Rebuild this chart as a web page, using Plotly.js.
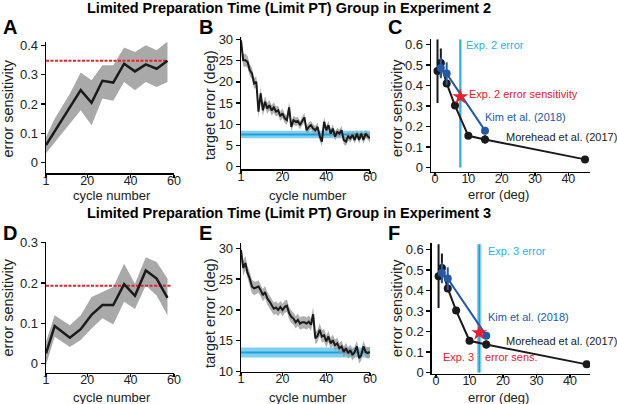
<!DOCTYPE html>
<html><head><meta charset="utf-8">
<script src="https://cdn.plot.ly/plotly-3.0.1.min.js"></script>
<style>html,body{margin:0;padding:0;background:#fff}#plot{width:617px;height:404px}</style>
</head><body><div id="plot"></div>
<script>
// ---------- data ----------
const titleTop = "Limited Preparation Time (Limit PT) Group in Experiment 2";
const titleBottom = "Limited Preparation Time (Limit PT) Group in Experiment 3";
const panelLetters = ["A","B","C","D","E","F"];
const xTitles = ["cycle number","cycle number","error (deg)","cycle number","cycle number","error (deg)"];
const yTitles = ["error sensitivity","target error (deg)","error sensitivity","error sensitivity","target error (deg)","error sensitivity"];

// A / D: error sensitivity by cycle bin
const binCycles = [1,5,12,17,22,27,32,37,42,47,52,57];
const esExp2 = [0.060,0.107,0.187,0.247,0.204,0.279,0.273,0.337,0.311,0.335,0.320,0.347];
const esExp2Hi = [0.088,0.150,0.235,0.307,0.281,0.332,0.332,0.392,0.377,0.400,0.383,0.413];
const esExp2Lo = [0.032,0.071,0.134,0.179,0.128,0.219,0.211,0.275,0.247,0.275,0.258,0.275];
const esExp3 = [0.025,0.093,0.064,0.085,0.121,0.145,0.145,0.197,0.168,0.231,0.211,0.163];
const esExp3Hi = [0.054,0.120,0.095,0.120,0.165,0.178,0.190,0.248,0.198,0.264,0.252,0.211];
const esExp3Lo = [-0.004,0.066,0.041,0.058,0.087,0.112,0.097,0.153,0.135,0.194,0.169,0.120];
const asymSens2 = 0.347;
const asymSens3 = 0.193;

// B / E: target error per cycle (1..60)
const cycles = [1,2,3,4,5,6,7,8,9,10,11,12,13,14,15,16,17,18,19,20,21,22,23,24,25,26,27,28,29,30,
  31,32,33,34,35,36,37,38,39,40,41,42,43,44,45,46,47,48,49,50,51,52,53,54,55,56,57,58,59,60];
const errExp2 = [29.8,25.1,25.1,24.7,22.8,22.0,19.6,20.0,13.0,17.3,13.3,15.3,13.7,14.5,13.3,14.0,13.0,13.3,11.9,12.6,
  11.4,11.0,14.0,9.4,11.0,10.6,10.8,9.8,10.8,11.6,8.6,9.4,9.8,9.0,8.6,9.4,7.2,5.9,10.6,8.6,
  9.8,7.8,9.0,7.1,8.2,7.8,8.6,6.3,5.9,7.2,6.7,7.5,6.3,7.8,6.3,7.8,6.3,7.8,7.2,6.7];
const seExp2 = [1.2,1.5,1.5,1.4,1.4,1.3,1.3,1.3,1.5,1.4,1.4,1.3,1.3,1.2,1.2,1.2,1.2,1.1,1.1,1.1,
  1.1,1.1,1.3,1.1,1.1,1.0,1.0,1.0,1.0,1.1,1.0,1.0,1.0,1.0,1.0,1.0,1.0,1.1,1.2,1.0,
  1.0,1.0,1.0,1.0,1.0,1.0,1.0,1.0,1.0,1.0,0.9,0.9,0.9,0.9,0.9,0.9,0.9,0.9,0.9,0.9];
const errExp3 = [29.7,26.8,27.6,26.0,25.1,23.8,23.5,23.6,23.8,23.2,22.4,22.9,21.9,21.4,20.8,20.2,20.4,20.0,20.5,20.0,
  20.5,20.7,19.5,18.9,18.6,18.0,18.4,17.8,18.0,18.0,17.8,18.1,17.6,19.3,15.4,15.8,16.8,15.7,15.9,14.9,
  15.7,14.6,15.1,14.3,14.6,13.8,14.1,13.2,13.8,13.0,13.5,12.7,13.2,14.1,12.2,12.7,14.1,13.2,13.0,13.2];
const seExp3 = [1.0,1.2,1.2,1.1,1.1,1.1,1.1,1.0,1.0,1.0,1.0,1.0,1.0,1.0,1.0,1.0,1.0,1.0,1.0,1.0,
  1.0,1.0,1.0,1.0,1.0,1.0,1.0,1.0,1.0,1.0,1.0,1.0,1.0,1.2,1.0,1.0,1.0,1.0,1.0,1.0,
  0.9,0.9,0.9,0.9,0.9,0.9,0.9,0.9,0.9,0.9,0.9,0.9,0.9,0.9,0.9,0.9,0.9,0.9,0.9,0.9];
const asymErr2 = 7.6, asymErr2Se = 0.9;
const asymErr3 = 13.1, asymErr3Se = 0.8;

// C / F: error sensitivity vs error size from prior studies
const moreheadErr = [0.75,1.75,3.5,6,10,15,45];
const moreheadSens = [0.47,0.51,0.41,0.302,0.155,0.137,0.04];
const moreheadSe = [0.155,0.07,0.015,0.015,0.015,0.02,0.006];
const kimErr = [1.75,3.5,15];
const kimSens = [0.485,0.458,0.18];
const kimSe = [0.05,0.055,0.015];
const exp2Err = 7.6, exp2Sens = 0.345;
const exp3Err = 12.9, exp3ErrHalf = 0.65, exp3Sens = 0.194;

// ---------- styling ----------
const W = 617, H = 404;
const FONT = '"Liberation Sans", Arial, Helvetica, sans-serif';
const BLACK = '#1a1a1a', GREY = '#a9a9a9', RED = '#e8202a', LBLUE = '#7fd0f0', CBLUE = '#1ea0dc', VBLUE = '#2ab4e8', KBLUE = '#2459a8';
const fx = p => p / W, fy = p => 1 - p / H;

function axis(d0, d1, range, tickvals, ticktext, anchor, isX) {
  const a = {domain:[d0,d1], range:range, anchor:anchor, showline:true, linecolor:'#000', linewidth:1.3,
    ticks:'outside', ticklen:isX ? 3 : 4, tickwidth:1.3, tickcolor:'#000', showgrid:false, zeroline:false,
    tickvals:tickvals, tickfont:{size:isX ? 12.5 : 13,color:'#222',family:FONT}, fixedrange:true};
  if (isX) a.ticklabelstandoff = -8;
  if (ticktext) a.ticktext = ticktext;
  return a;
}

function band(x, lo, hi, xa, ya, color) {
  return {x: x.concat(x.slice().reverse()), y: hi.concat(lo.slice().reverse()), xaxis:xa, yaxis:ya,
    type:'scatter', mode:'lines', fill:'toself', fillcolor:color, line:{width:0}, hoverinfo:'skip', showlegend:false};
}
const addArr = (a, b, s) => a.map((v,i) => v + s*b[i]);

const traces = [];
// Panel A
traces.push(band(binCycles, esExp2Lo, esExp2Hi, 'x', 'y', GREY));
traces.push({x:[1,57], y:[asymSens2, asymSens2], xaxis:'x', yaxis:'y', mode:'lines', line:{color:RED, width:2, dash:'3px,1.5px'}, showlegend:false});
traces.push({x:binCycles, y:esExp2, xaxis:'x', yaxis:'y', mode:'lines', line:{color:BLACK, width:2.5}, showlegend:false});
// Panel B
traces.push(band([1,60], [asymErr2-asymErr2Se, asymErr2-asymErr2Se], [asymErr2+asymErr2Se, asymErr2+asymErr2Se], 'x2', 'y2', LBLUE));
traces.push({x:[1,60], y:[asymErr2, asymErr2], xaxis:'x2', yaxis:'y2', mode:'lines', line:{color:CBLUE, width:2}, showlegend:false});
traces.push(band(cycles, addArr(errExp2, seExp2, -1), addArr(errExp2, seExp2, 1), 'x2', 'y2', 'rgba(150,150,150,0.75)'));
traces.push({x:cycles, y:errExp2, xaxis:'x2', yaxis:'y2', mode:'lines', line:{color:BLACK, width:2}, showlegend:false});
// Panel C
traces.push({x:[exp2Err, exp2Err], y:[0, 0.625], xaxis:'x3', yaxis:'y3', mode:'lines', line:{color:VBLUE, width:2.3}, showlegend:false});
traces.push({x:moreheadErr, y:moreheadSens, xaxis:'x3', yaxis:'y3', mode:'lines+markers', line:{color:BLACK, width:2},
  marker:{color:BLACK, size:8}, error_y:{type:'data', array:moreheadSe, color:BLACK, thickness:2, width:0}, showlegend:false});
traces.push({x:kimErr, y:kimSens, xaxis:'x3', yaxis:'y3', mode:'lines+markers', line:{color:KBLUE, width:2},
  marker:{color:KBLUE, size:8}, error_y:{type:'data', array:kimSe, color:KBLUE, thickness:2, width:0}, showlegend:false});
traces.push({x:[exp2Err], y:[exp2Sens], xaxis:'x3', yaxis:'y3', mode:'markers', marker:{symbol:'star', color:RED, size:12, line:{width:0}}, showlegend:false});
// Panel D
traces.push(band(binCycles, esExp3Lo, esExp3Hi, 'x4', 'y4', GREY));
traces.push({x:[1,59], y:[asymSens3, asymSens3], xaxis:'x4', yaxis:'y4', mode:'lines', line:{color:RED, width:2, dash:'3px,1.5px'}, showlegend:false});
traces.push({x:binCycles, y:esExp3, xaxis:'x4', yaxis:'y4', mode:'lines', line:{color:BLACK, width:2.5}, showlegend:false});
// Panel E
traces.push(band([1,60], [asymErr3-asymErr3Se, asymErr3-asymErr3Se], [asymErr3+asymErr3Se, asymErr3+asymErr3Se], 'x5', 'y5', LBLUE));
traces.push({x:[1,60], y:[asymErr3, asymErr3], xaxis:'x5', yaxis:'y5', mode:'lines', line:{color:CBLUE, width:2}, showlegend:false});
traces.push(band(cycles, addArr(errExp3, seExp3, -1), addArr(errExp3, seExp3, 1), 'x5', 'y5', 'rgba(150,150,150,0.75)'));
traces.push({x:cycles, y:errExp3, xaxis:'x5', yaxis:'y5', mode:'lines', line:{color:BLACK, width:2}, showlegend:false});
// Panel F
traces.push(band([exp3Err-exp3ErrHalf, exp3Err+exp3ErrHalf], [0,0], [0.625,0.625], 'x6', 'y6', LBLUE));
traces.push({x:[exp3Err, exp3Err], y:[0, 0.625], xaxis:'x6', yaxis:'y6', mode:'lines', line:{color:CBLUE, width:1.5}, showlegend:false});
traces.push({x:moreheadErr, y:moreheadSens, xaxis:'x6', yaxis:'y6', mode:'lines+markers', line:{color:BLACK, width:2},
  marker:{color:BLACK, size:8}, error_y:{type:'data', array:moreheadSe, color:BLACK, thickness:2, width:0}, showlegend:false});
traces.push({x:kimErr, y:kimSens, xaxis:'x6', yaxis:'y6', mode:'lines+markers', line:{color:KBLUE, width:2},
  marker:{color:KBLUE, size:8}, error_y:{type:'data', array:kimSe, color:KBLUE, thickness:2, width:0}, showlegend:false});
traces.push({x:[exp3Err], y:[exp3Sens], xaxis:'x6', yaxis:'y6', mode:'markers', marker:{symbol:'star', color:RED, size:12, line:{width:0}}, showlegend:false});

const cycTicks = [1,20,40,60];
const layout = {
  width:W, height:H, margin:{l:0,r:0,t:0,b:0}, paper_bgcolor:'#fff', plot_bgcolor:'rgba(0,0,0,0)',
  font:{family:FONT, color:'#222'}, showlegend:false,
  xaxis:  axis(fx(46), fx(174), [1,60], cycTicks, null, 'y', true),
  yaxis:  axis(fy(173.3), fy(42.3), [-0.036,0.41], [0,0.1,0.2,0.3,0.4], ['0','0.1','0.2','0.3','0.4'], 'x', false),
  xaxis2: axis(fx(241), fx(370), [1,60], cycTicks, null, 'y2', true),
  yaxis2: axis(fy(169.3), fy(37.3), [-0.6,30.5], [0,5,10,15,20,25,30], null, 'x2', false),
  xaxis3: axis(fx(431), fx(590), [-1.2,46.5], [0,10,20,30,40], null, 'y3', true),
  yaxis3: axis(fy(171.7), fy(39.3), [-0.02,0.625], [0,0.1,0.2,0.3,0.4,0.5,0.6], ['0','0.1','0.2','0.3','0.4','0.5','0.6'], 'x3', false),
  xaxis4: axis(fx(46), fx(174), [1,60], cycTicks, null, 'y4', true),
  yaxis4: axis(fy(373), fy(242), [-0.024,0.302], [0,0.1,0.2,0.3], ['0','0.1','0.2','0.3'], 'x4', false),
  xaxis5: axis(fx(241), fx(370), [1,60], cycTicks, null, 'y5', true),
  yaxis5: axis(fy(371.7), fy(243.3), [10,30.8], [10,15,20,25,30], null, 'x5', false),
  xaxis6: axis(fx(431.7), fx(590), [-1.3,46], [0,10,20,30,40], null, 'y6', true),
  yaxis6: axis(fy(374), fy(243.3), [-0.007,0.63], [0,0.1,0.2,0.3,0.4,0.5,0.6], ['0','0.1','0.2','0.3','0.4','0.5','0.6'], 'x6', false),
  annotations: []
};
const A = layout.annotations;
A.push({text:'<b>'+titleTop+'</b>', xref:'paper', yref:'paper', x:fx(289), y:fy(8), xanchor:'center', yanchor:'middle', showarrow:false, font:{size:14.5, color:'#000'}});
A.push({text:'<b>'+titleBottom+'</b>', xref:'paper', yref:'paper', x:fx(289), y:fy(213), xanchor:'center', yanchor:'middle', showarrow:false, font:{size:14.5, color:'#000'}});
const letterPos = [[1,27],[197,27],[386,27],[1,233],[197,233],[386,233]];
panelLetters.forEach((t,i) => A.push({text:'<b>'+t+'</b>', xref:'paper', yref:'paper', x:fx(letterPos[i][0]), y:fy(letterPos[i][1]),
  xanchor:'left', yanchor:'middle', showarrow:false, font:{size:20, color:'#000'}}));
// axis titles
const xTitlePos = [[112,195],[307.5,195],[498,194.5],[112,397.5],[307.5,397.5],[498,397]];
const yTitlePos = [[7.5,109],[210,105],[397,108],[7.5,308],[210,313],[397,308]];
xTitles.forEach((t,i) => A.push({text:t, xref:'paper', yref:'paper', x:fx(xTitlePos[i][0]), y:fy(xTitlePos[i][1]),
  xanchor:'center', yanchor:'middle', showarrow:false, font:{size:13, color:'#222'}}));
yTitles.forEach((t,i) => A.push({text:t, xref:'paper', yref:'paper', x:fx(yTitlePos[i][0]), y:fy(yTitlePos[i][1]),
  xanchor:'center', yanchor:'middle', textangle:-90, showarrow:false, font:{size:14.5, color:'#222'}}));
function note(t, xr, yr, x, y, color) {
  A.push({text:t, xref:xr, yref:yr, x:x, y:y, xanchor:'left', yanchor:'middle', showarrow:false, font:{size:11, color:color}});
}
note('Exp. 2 error', 'x3', 'y3', 8.7, 0.597, VBLUE);
note('Exp. 2 error sensitivity', 'x3', 'y3', 9.5, 0.358, RED);
note('Kim et al. (2018)', 'x3', 'y3', 14.3, 0.247, KBLUE);
note('Morehead et al. (2017)', 'x3', 'y3', 20.8, 0.149, '#222');
note('Exp. 3 error', 'x6', 'y6', 14.8, 0.592, VBLUE);
note('Kim et al. (2018)', 'x6', 'y6', 14.8, 0.271, KBLUE);
note('Morehead et al. (2017)', 'x6', 'y6', 20.4, 0.154, '#222');
note('Exp. 3', 'x6', 'y6', 1.4, 0.076, RED);
note('error sens.', 'x6', 'y6', 13.9, 0.076, RED);

Plotly.newPlot('plot', traces, layout, {displayModeBar:false, staticPlot:true});
</script></body></html>
